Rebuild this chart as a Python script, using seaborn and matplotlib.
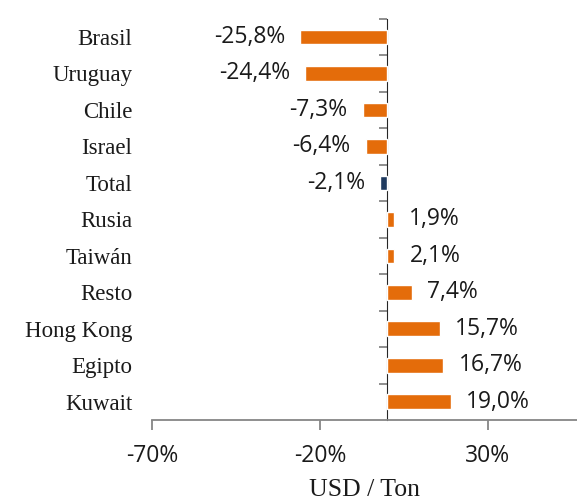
import matplotlib
matplotlib.use("Agg")
import matplotlib.pyplot as plt
import seaborn as sns

# ── Data ──
categories = ["Brasil", "Uruguay", "Chile", "Israel", "Total", "Rusia",
              "Taiwán", "Resto", "Hong Kong", "Egipto", "Kuwait"]
values = [-25.8, -24.4, -7.3, -6.4, -2.1, 1.9, 2.1, 7.4, 15.7, 16.7, 19.0]
x_ticks = [-70, -20, 30]
x_label = "USD / Ton"

ORANGE = "#E46C0A"
NAVY = "#1F3A5F"
AXIS = "#868686"
TEXT = "#1a1a1a"
colors = [NAVY if c == "Total" else ORANGE for c in categories]

sns.set_style("white")
plt.rcParams["font.family"] = ["Liberation Sans", "DejaVu Sans"]

fig = plt.figure(figsize=(5.77, 5.03), dpi=100)
ax = fig.add_axes([0.2634, 0.165, 0.7366, 0.798])

sns.barplot(x=values, y=categories, hue=categories, palette=colors,
            legend=False, orient="h", width=0.4, saturation=1, ax=ax)

xmin, xmax = -70, 56.5
ax.set_xlim(xmin, xmax)
ax.set_ylim(len(categories) - 0.5, -0.5)

# value labels
for cont in ax.containers:
    ax.bar_label(cont, labels=[f"{v:.1f}%".replace(".", ",") for v in cont.datavalues],
                 padding=11, fontsize=16.5, color=TEXT, family="Open Sans")

# x axis
ax.set_xticks(x_ticks)
ax.set_xticklabels([f"{t}%" for t in x_ticks], fontsize=16.5, color=TEXT, family="Open Sans")
ax.tick_params(axis="x", direction="out", length=7, width=1.3, color=AXIS, pad=10, bottom=True)
ax.set_xlabel(x_label, fontsize=18.5, family="Liberation Serif", color=TEXT, labelpad=8)

# category labels on the far left, no tick marks
ax.tick_params(axis="y", length=0, pad=14)
for lbl in ax.get_yticklabels():
    lbl.set_fontfamily("Liberation Serif")
    lbl.set_fontsize(16.5)
    lbl.set_color(TEXT)

for s in ["top", "right", "left"]:
    ax.spines[s].set_visible(False)
ax.spines["bottom"].set_color(AXIS)
ax.spines["bottom"].set_linewidth(1.3)

# vertical axis at zero with boundary ticks
sec = ax.secondary_yaxis((0 - xmin) / (xmax - xmin))
sec.set_yticks([i + 0.5 for i in range(-1, len(categories) - 1)])
sec.set_yticklabels([])
sec.tick_params(direction="in", length=6, width=1.3, color=AXIS)
sec.spines["left"].set_color(AXIS)
sec.spines["left"].set_linewidth(1.3)

plt.savefig("out.png", dpi=100)
plt.close()
